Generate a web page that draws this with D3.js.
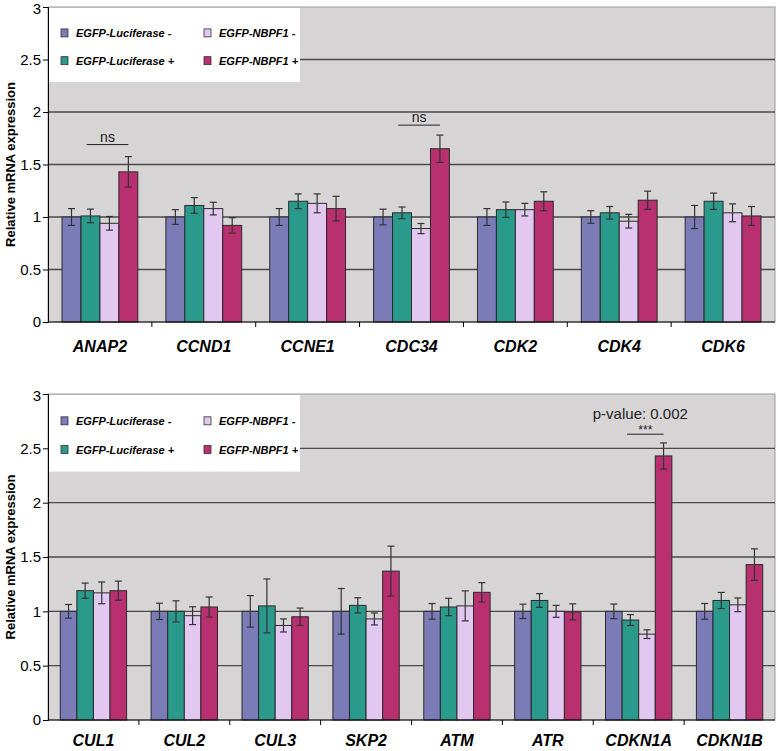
<!DOCTYPE html>
<html>
<head>
<meta charset="utf-8">
<script src="https://cdn.jsdelivr.net/npm/d3@7"></script>
<style>
  body { margin: 0; background: #fff; }
  svg { font-family: "Liberation Sans", Arial, sans-serif; }
</style>
</head>
<body>
<svg id="chart" width="778" height="751"></svg>
<script>
// series and colours
var seriesNames = ["EGFP-Luciferase -", "EGFP-Luciferase +", "EGFP-NBPF1 -", "EGFP-NBPF1 +"];
var seriesColors = ["#7b7bb8", "#2a9a8c", "#e2c8f0", "#b83070"];
var yTicks = [0, 0.5, 1, 1.5, 2, 2.5, 3];

// top panel
var topGenes = ["ANAP2", "CCND1", "CCNE1", "CDC34", "CDK2", "CDK4", "CDK6"];
var topValues = [
  [1.00, 1.00, 1.00, 1.00, 1.00, 1.00, 1.00],
  [1.01, 1.11, 1.15, 1.04, 1.07, 1.04, 1.15],
  [0.94, 1.08, 1.13, 0.89, 1.07, 0.96, 1.04],
  [1.43, 0.92, 1.08, 1.65, 1.15, 1.16, 1.01]
];
var topErrors = [
  [0.08, 0.07, 0.08, 0.075, 0.08, 0.06, 0.11],
  [0.065, 0.075, 0.07, 0.055, 0.073, 0.06, 0.078],
  [0.065, 0.06, 0.09, 0.048, 0.06, 0.065, 0.085],
  [0.145, 0.073, 0.117, 0.13, 0.09, 0.086, 0.09]
];
// [gene, label, y of line]
var topNotes = [["ANAP2", "ns", 1.69], ["CDC34", "ns", 1.875]];

// bottom panel
var bottomGenes = ["CUL1", "CUL2", "CUL3", "SKP2", "ATM", "ATR", "CDKN1A", "CDKN1B"];
var bottomValues = [
  [1.00, 1.00, 1.00, 1.00, 1.00, 1.00, 1.00, 1.00],
  [1.19, 1.00, 1.05, 1.055, 1.04, 1.10, 0.92, 1.10],
  [1.17, 0.96, 0.87, 0.93, 1.05, 1.00, 0.79, 1.06],
  [1.19, 1.04, 0.95, 1.37, 1.175, 0.995, 2.43, 1.43]
];
var bottomErrors = [
  [0.063, 0.075, 0.145, 0.21, 0.072, 0.066, 0.067, 0.072],
  [0.07, 0.097, 0.248, 0.07, 0.08, 0.063, 0.05, 0.074],
  [0.1, 0.082, 0.06, 0.055, 0.138, 0.055, 0.04, 0.063],
  [0.088, 0.092, 0.08, 0.23, 0.089, 0.074, 0.12, 0.145]
];
var bottomNotes = [["CDKN1A", "***", 2.63, "p-value: 0.002"]];

var svg = d3.select("#chart");

function drawPanel(top, bottom, genes, values, errors, notes, labelOffset) {
  var left = 48, right = 775;
  var g = svg.append("g");

  var x = d3.scaleBand().domain(genes).range([left, right]).paddingInner(0.27).paddingOuter(0.135);
  var xGroup = d3.scaleBand().domain(genes).range([left, right]);
  var xs = d3.scaleBand().domain(d3.range(seriesNames.length)).range([0, x.bandwidth()]);
  var y = d3.scaleLinear().domain([0, 3]).range([bottom, top]);

  // plot background
  g.append("rect")
    .attr("x", left).attr("y", top)
    .attr("width", right - left).attr("height", bottom - top)
    .attr("fill", "#d6d4d4").attr("stroke", "#999").attr("stroke-width", 1);

  // gridlines
  g.selectAll(".grid").data(yTicks.filter(function(t){ return t > 0 && t < 3; }))
    .enter().append("line")
    .attr("x1", left).attr("x2", right)
    .attr("y1", function(d){ return y(d); }).attr("y2", function(d){ return y(d); })
    .attr("stroke", "#4a4a4a").attr("stroke-width", 1.4);

  // legend box
  var lg = g.append("g");
  var lgH = (bottom - top) * 0.235;
  lg.append("rect").attr("x", left + 1).attr("y", top + 1)
    .attr("width", 251).attr("height", lgH).attr("fill", "#fff");
  var legendPos = [[0, 0], [0, 1], [1, 0], [1, 1]];
  seriesNames.forEach(function(name, i) {
    var lx = left + 13 + legendPos[i][0] * 143;
    var ly = top + lgH * 0.35 + legendPos[i][1] * lgH * 0.375;
    lg.append("rect").attr("x", lx).attr("y", ly - 4).attr("width", 7).attr("height", 8)
      .attr("fill", seriesColors[i]).attr("stroke", "#333").attr("stroke-width", 0.8);
    lg.append("text").attr("x", lx + 15).attr("y", ly + 4)
      .attr("font-size", 11).attr("font-weight", "bold").attr("font-style", "italic")
      .text(name);
  });

  // bars
  seriesNames.forEach(function(name, s) {
    var bars = g.append("g");
    bars.selectAll("rect").data(genes).enter().append("rect")
      .attr("x", function(d){ return x(d) + xs(s); })
      .attr("y", function(d, i){ return y(values[s][i]); })
      .attr("width", xs.bandwidth())
      .attr("height", function(d, i){ return y(0) - y(values[s][i]); })
      .attr("fill", seriesColors[s]).attr("stroke", "#2a2a2a").attr("stroke-width", 1);
  });

  // error bars
  seriesNames.forEach(function(name, s) {
    genes.forEach(function(gene, i) {
      var cx = x(gene) + xs(s) + xs.bandwidth() / 2;
      var hi = y(values[s][i] + errors[s][i]), lo = y(values[s][i] - errors[s][i]);
      var eg = g.append("g").attr("stroke", "#333").attr("stroke-width", 1.2);
      eg.append("line").attr("x1", cx).attr("x2", cx).attr("y1", hi).attr("y2", lo);
      eg.append("line").attr("x1", cx - 3.5).attr("x2", cx + 3.5).attr("y1", hi).attr("y2", hi);
      eg.append("line").attr("x1", cx - 3.5).attr("x2", cx + 3.5).attr("y1", lo).attr("y2", lo);
    });
  });

  // significance notes
  notes.forEach(function(n) {
    var x1 = x(n[0]) + xs(1) + xs.bandwidth() * 0.3;
    var x2 = x(n[0]) + xs(3) + xs.bandwidth() * 0.5;
    var ly = y(n[2]);
    g.append("line").attr("x1", x1).attr("x2", x2).attr("y1", ly).attr("y2", ly)
      .attr("stroke", "#222").attr("stroke-width", 1);
    g.append("text").attr("x", (x1 + x2) / 2).attr("y", ly - (n[1] == "***" ? 0 : 3))
      .attr("text-anchor", "middle").attr("font-size", n[1] == "***" ? 12 : 14)
      .attr("fill", "#222").text(n[1]);
    if (n[3]) {
      g.append("text").attr("x", (x1 + x2) / 2 - 5).attr("y", ly - 15)
        .attr("text-anchor", "middle").attr("font-size", 15).attr("fill", "#222").text(n[3]);
    }
  });

  // y axis
  var yAxis = d3.axisLeft(y).tickValues(yTicks).tickSize(5).tickPadding(2)
    .tickFormat(function(d){ return d; });
  var ya = g.append("g").attr("transform", "translate(" + left + ",0)").call(yAxis);
  ya.select(".domain").attr("stroke", "#000");
  ya.selectAll("text").attr("font-size", 15).attr("fill", "#000")
    .attr("font-family", "Liberation Sans, Arial, sans-serif");
  // keep the top label inside the page
  ya.selectAll("text").filter(function(d){ return d == 3; }).attr("dy", "0.45em");

  // x axis
  var xa = g.append("g").attr("transform", "translate(0," + bottom + ")");
  xa.append("line").attr("x1", left).attr("x2", right).attr("stroke", "#000");
  xa.selectAll(".tk").data(genes.slice(1)).enter().append("line")
    .attr("x1", function(d){ return xGroup(d); }).attr("x2", function(d){ return xGroup(d); })
    .attr("y1", 0).attr("y2", 5).attr("stroke", "#000");
  xa.selectAll("text").data(genes).enter().append("text")
    .attr("x", function(d){ return xGroup(d) + xGroup.bandwidth() / 2; })
    .attr("y", labelOffset)
    .attr("text-anchor", "middle").attr("font-size", 16)
    .attr("font-weight", "bold").attr("font-style", "italic")
    .text(function(d){ return d; });

  // y title
  g.append("text")
    .attr("transform", "translate(15," + ((top + bottom) / 2) + ") rotate(-90)")
    .attr("text-anchor", "middle").attr("font-size", 13).attr("font-weight", "bold")
    .text("Relative mRNA expression");
}

drawPanel(7, 322, topGenes, topValues, topErrors, topNotes, 30);
drawPanel(394, 720, bottomGenes, bottomValues, bottomErrors, bottomNotes, 26);
</script>
</body>
</html>
